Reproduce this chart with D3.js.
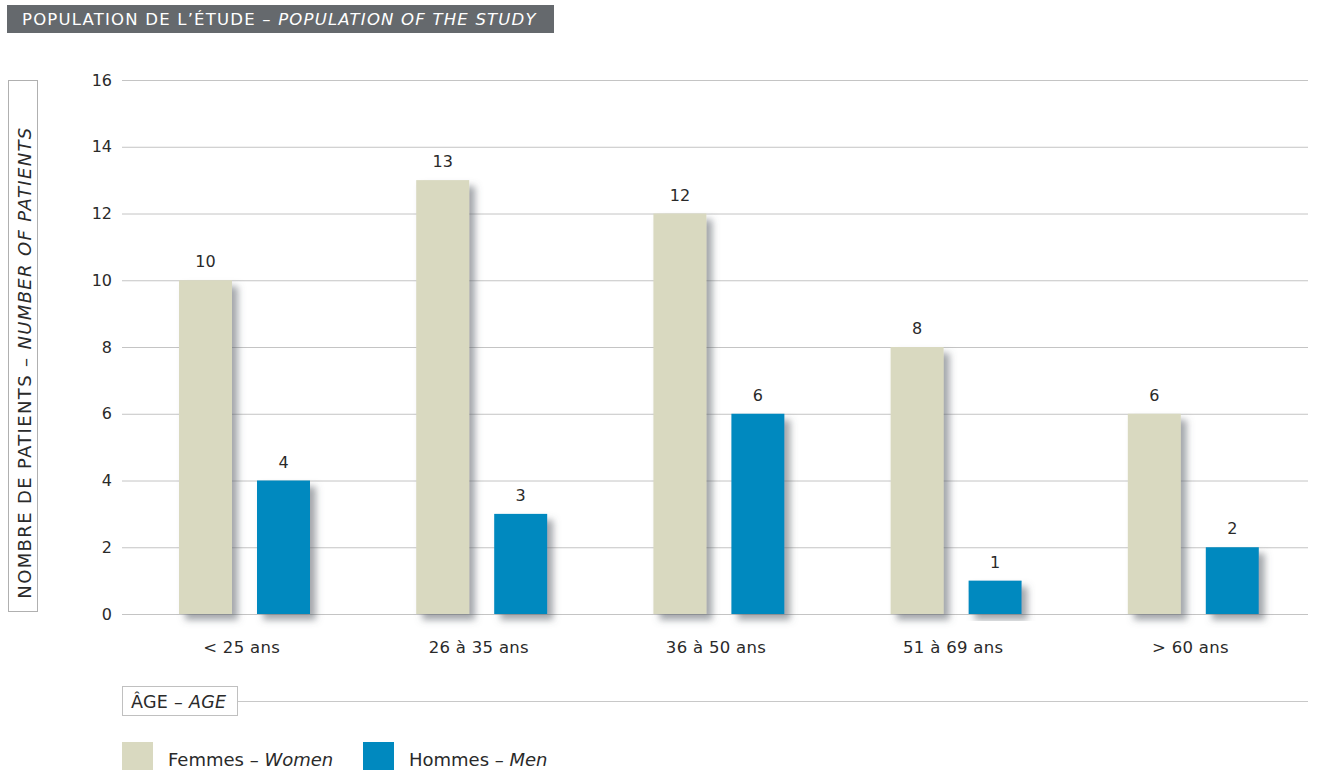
<!DOCTYPE html>
<html>
<head>
<meta charset="utf-8">
<script src="https://cdn.jsdelivr.net/npm/d3@7"></script>
<style>
  html, body { margin: 0; padding: 0; background: #fff; }
  svg { display: block; font-family: "DejaVu Sans", sans-serif; }
</style>
</head>
<body>
<svg id="chart" width="1324" height="770"></svg>
<script>
// Age groups and patient counts by sex
const categories = ["< 25 ans", "26 à 35 ans", "36 à 50 ans", "51 à 69 ans", "> 60 ans"];
const women = [10, 13, 12, 8, 6];
const men = [4, 3, 6, 1, 2];
const yTicks = [0, 2, 4, 6, 8, 10, 12, 14, 16];
const seriesNames = ["women", "men"];

const colors = { women: "#d9d9c0", men: "#0089bf" };
const FONT = "'DejaVu Sans', sans-serif";
const INK = "#2a2a2a";

const svg = d3.select("#chart");

const x = d3.scaleBand().domain(categories).range([122, 1308]).paddingInner(0).paddingOuter(0);
const y = d3.scaleLinear().domain([0, 16]).range([614, 80]);
const xs = d3.scaleBand().domain(seriesNames).range([57, 57 + 53 * 2 + 25]).paddingInner(25 / 78);

// Soft drop shadow beneath each bar
const defs = svg.append("defs");
const f = defs.append("filter").attr("id", "shadow").attr("x", "-30%").attr("y", "-10%").attr("width", "170%").attr("height", "130%");
f.append("feDropShadow").attr("dx", 6).attr("dy", 6).attr("stdDeviation", 3.5)
  .attr("flood-color", "#5a5f66").attr("flood-opacity", 0.55);

// Title banner
svg.append("rect").attr("x", 7).attr("y", 5).attr("width", 547).attr("height", 28).attr("fill", "#65696d");
const title = svg.append("text").attr("x", 22).attr("y", 24.5).attr("fill", "#fff")
  .attr("font-size", 16.5).attr("letter-spacing", 1.2);
title.append("tspan").text("POPULATION DE L’ÉTUDE – ");
title.append("tspan").attr("font-style", "italic").text("POPULATION OF THE STUDY");

// Horizontal grid and y tick labels
const yAxis = d3.axisLeft(y).tickValues(yTicks).tickSize(-(1308 - 122)).tickPadding(10);
const gy = svg.append("g").attr("transform", "translate(122,0)").call(yAxis);
gy.select(".domain").remove();
gy.selectAll(".tick line").attr("stroke", "#c4c4c4").attr("stroke-width", 1);
gy.selectAll(".tick text").attr("fill", INK).attr("font-size", 16).attr("font-family", FONT);

// Y axis title box
svg.append("rect").attr("x", 8.5).attr("y", 80.5).attr("width", 29).attr("height", 531)
  .attr("fill", "none").attr("stroke", "#b0b0b0");
const yt = svg.append("text").attr("transform", "translate(30.5,362.5) rotate(-90)")
  .attr("text-anchor", "middle").attr("fill", INK).attr("font-size", 18).attr("letter-spacing", 1.35);
yt.append("tspan").text("NOMBRE DE PATIENTS – ");
yt.append("tspan").attr("font-style", "italic").text("NUMBER OF PATIENTS");

// Bars
const groups = svg.append("g").selectAll("g").data(categories).join("g")
  .attr("transform", d => `translate(${x(d)},0)`);

const rows = (d, i) => [
  { key: "women", value: women[i] },
  { key: "men", value: men[i] }
];

groups.selectAll("rect").data(rows).join("rect")
  .attr("x", d => xs(d.key))
  .attr("y", d => y(d.value))
  .attr("width", xs.bandwidth())
  .attr("height", d => y(0) - y(d.value))
  .attr("fill", d => colors[d.key])
  .attr("filter", "url(#shadow)");

groups.selectAll("text.val").data(rows).join("text").attr("class", "val")
  .attr("x", d => xs(d.key) + xs.bandwidth() / 2)
  .attr("y", d => y(d.value) - 13)
  .attr("text-anchor", "middle").attr("fill", INK).attr("font-size", 16)
  .text(d => d.value);

// Category labels
const xAxis = d3.axisBottom(x).tickSize(0).tickPadding(0);
const gx = svg.append("g").attr("transform", "translate(0,652.5)").call(xAxis);
gx.select(".domain").remove();
gx.selectAll(".tick text").attr("fill", INK).attr("font-size", 16.5).attr("font-family", FONT)
  .attr("letter-spacing", 0.3).attr("dy", 0).attr("transform", "translate(1,0)");

// X axis title box and rule
svg.append("line").attr("x1", 237).attr("x2", 1308).attr("y1", 701.5).attr("y2", 701.5).attr("stroke", "#c8c8c8");
svg.append("rect").attr("x", 122.5).attr("y", 686.5).attr("width", 115).attr("height", 29)
  .attr("fill", "#fff").attr("stroke", "#c0c0c0");
const xt = svg.append("text").attr("x", 131).attr("y", 707.5).attr("fill", INK).attr("font-size", 17.5)
  .attr("letter-spacing", 0.3);
xt.append("tspan").text("ÂGE – ");
xt.append("tspan").attr("font-style", "italic").text("AGE");

// Legend
const legend = [
  { key: "women", fr: "Femmes – ", en: "Women", x: 122 },
  { key: "men", fr: "Hommes – ", en: "Men", x: 363 }
];
const lg = svg.append("g").selectAll("g").data(legend).join("g")
  .attr("transform", d => `translate(${d.x},742)`);
lg.append("rect").attr("width", 31).attr("height", 30).attr("fill", d => colors[d.key]);
const lt = lg.append("text").attr("x", 46).attr("y", 24).attr("fill", INK).attr("font-size", 18);
lt.append("tspan").text(d => d.fr);
lt.append("tspan").attr("font-style", "italic").text(d => d.en);
</script>
</body>
</html>
